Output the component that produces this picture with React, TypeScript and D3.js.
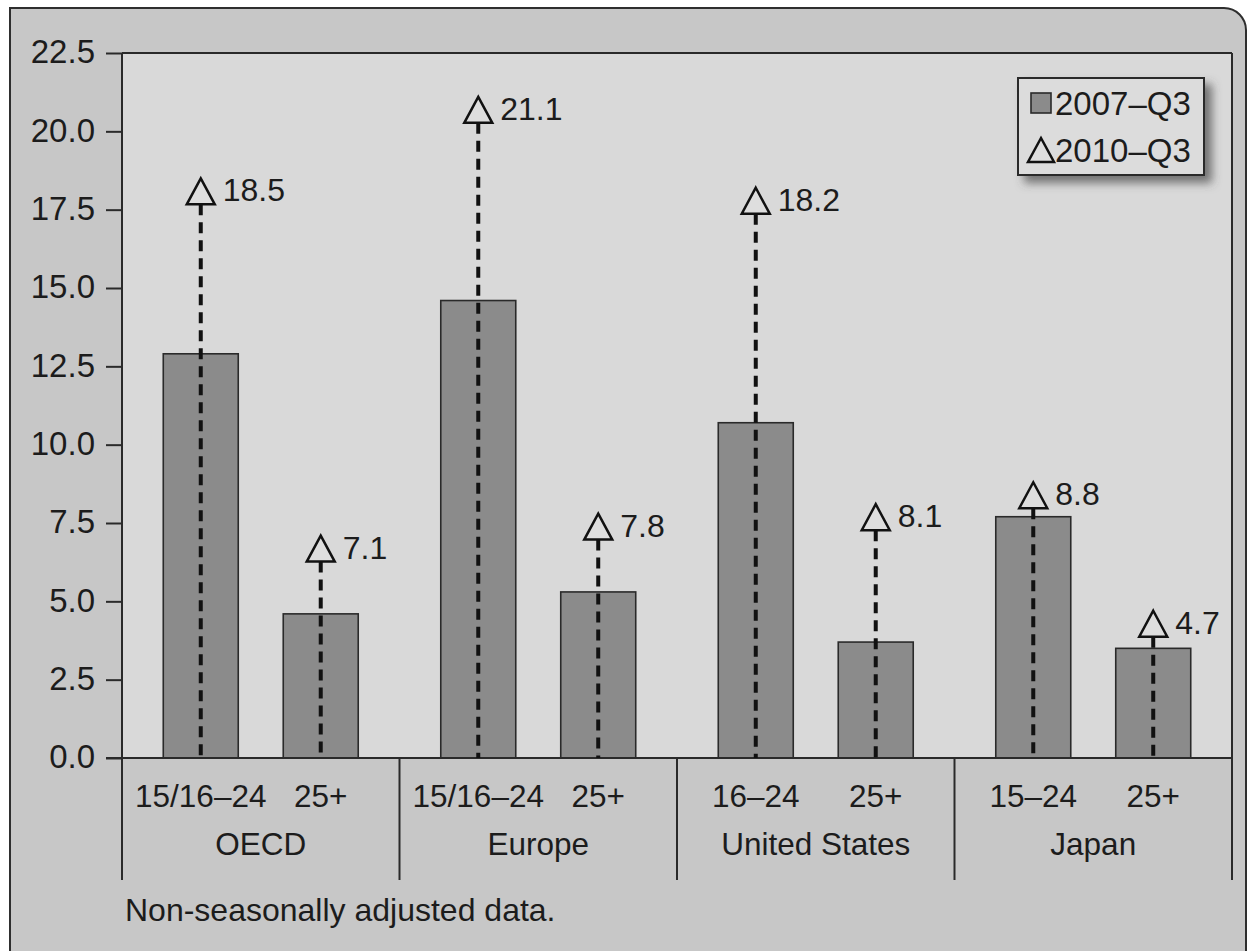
import { useEffect, useRef } from "react";
import * as d3 from "d3";

// regions and age brackets
const groups = ["OECD", "Europe", "United States", "Japan"];
const ageLabels = [
  ["15/16–24", "25+"],
  ["15/16–24", "25+"],
  ["16–24", "25+"],
  ["15–24", "25+"],
];
// unemployment rate, %
const rate2007 = [12.9, 4.6, 14.6, 5.3, 10.7, 3.7, 7.7, 3.5];
const rate2010 = [18.5, 7.1, 21.1, 7.8, 18.2, 8.1, 8.8, 4.7];
const yTicks = [0, 2.5, 5, 7.5, 10, 12.5, 15, 17.5, 20, 22.5];
const seriesNames = ["2007–Q3", "2010–Q3"];
const footnote = "Non-seasonally adjusted data.";

type Row = { group: string; age: string; slot: string; v07: number; v10: number };

const rows: Row[] = groups.flatMap((g, i) =>
  ageLabels[i].map((a, j) => ({
    group: g,
    age: a,
    slot: String(j),
    v07: rate2007[i * 2 + j],
    v10: rate2010[i * 2 + j],
  })),
);

const FONT = "'Liberation Sans', Arial, Helvetica, sans-serif";
const INK = "#1c1c1c";

const Chart = ({
  width = 1250,
  height = 951,
  margin = { top: 53, right: 18, bottom: 193, left: 122 },
}) => {
  const svgRef = useRef<SVGSVGElement>(null);

  useEffect(() => {
    if (!svgRef.current) return;
    const svg = d3.select(svgRef.current);
    svg.selectAll("*").remove();

    const left = margin.left;
    const right = width - margin.right;
    const top = margin.top;
    const bottom = height - margin.bottom;
    const labelsBottom = 880;

    const x0 = d3.scaleBand<string>().domain(groups).range([left, right]);
    const x1 = d3
      .scaleBand<string>()
      .domain(["0", "1"])
      .range([0, x0.bandwidth()])
      .paddingInner(0.375)
      .paddingOuter(0.344);
    const y = d3.scaleLinear().domain([0, 22.5]).range([bottom, top]);
    const cx = (d: Row) => x0(d.group)! + x1(d.slot)! + x1.bandwidth() / 2;

    // legend shadow
    const defs = svg.append("defs");
    const f = defs
      .append("filter")
      .attr("id", "shadow")
      .attr("x", "-20%")
      .attr("y", "-20%")
      .attr("width", "150%")
      .attr("height", "160%");
    f.append("feDropShadow")
      .attr("dx", 7)
      .attr("dy", 7)
      .attr("stdDeviation", 5)
      .attr("flood-color", "#444")
      .attr("flood-opacity", 0.7);

    // page frame
    svg
      .append("path")
      .attr("d", `M10,${height + 5} V8 H1224 A22,22 0 0 1 1246,30 V${height + 5}`)
      .attr("fill", "#c7c7c7")
      .attr("stroke", "#2e2e2e")
      .attr("stroke-width", 2);

    // plot area
    svg
      .append("rect")
      .attr("x", left)
      .attr("y", top)
      .attr("width", right - left)
      .attr("height", bottom - top)
      .attr("fill", "#d9d9d9");

    // category frame: top, right, separators
    svg
      .append("line")
      .attr("x1", left)
      .attr("x2", right)
      .attr("y1", top)
      .attr("y2", top)
      .attr("stroke", "#2a2a2a")
      .attr("stroke-width", 2);
    svg
      .append("line")
      .attr("x1", right)
      .attr("x2", right)
      .attr("y1", top)
      .attr("y2", labelsBottom)
      .attr("stroke", "#2a2a2a")
      .attr("stroke-width", 2);
    svg
      .append("g")
      .selectAll("line")
      .data(groups)
      .enter()
      .append("line")
      .attr("x1", (g) => x0(g)!)
      .attr("x2", (g) => x0(g)!)
      .attr("y1", (g, i) => (i === 0 ? top : bottom))
      .attr("y2", labelsBottom)
      .attr("stroke", "#2a2a2a")
      .attr("stroke-width", 2);

    // y axis
    const yAxis = svg
      .append("g")
      .attr("transform", `translate(${left},0)`)
      .call(
        d3
          .axisLeft(y)
          .tickValues(yTicks)
          .tickFormat(d3.format(".1f"))
          .tickSize(16)
          .tickSizeOuter(0)
          .tickPadding(11),
      );
    yAxis.select(".domain").remove();
    yAxis.selectAll("line").attr("stroke", "#2a2a2a").attr("stroke-width", 2);
    yAxis
      .selectAll("text")
      .attr("fill", INK)
      .attr("font-family", FONT)
      .attr("font-size", 33)
      .attr("dy", "0.3em");

    // 2007-Q3 bars
    svg
      .append("g")
      .selectAll("rect")
      .data(rows)
      .enter()
      .append("rect")
      .attr("x", (d) => x0(d.group)! + x1(d.slot)!)
      .attr("y", (d) => y(d.v07))
      .attr("width", x1.bandwidth())
      .attr("height", (d) => bottom - y(d.v07))
      .attr("fill", "#8b8b8b")
      .attr("stroke", "#2a2a2a")
      .attr("stroke-width", 1.6);

    // baseline
    svg
      .append("line")
      .attr("x1", left - 16)
      .attr("x2", right)
      .attr("y1", bottom)
      .attr("y2", bottom)
      .attr("stroke", "#2a2a2a")
      .attr("stroke-width", 2);

    const triH = 26;
    const triW = 14;

    // dashed drop lines
    svg
      .append("g")
      .selectAll("line")
      .data(rows)
      .enter()
      .append("line")
      .attr("x1", cx)
      .attr("x2", cx)
      .attr("y1", (d) => y(d.v10) + triH)
      .attr("y2", bottom)
      .attr("stroke", "#111")
      .attr("stroke-width", 4)
      .attr("stroke-dasharray", "11,7");

    // 2010-Q3 triangles
    svg
      .append("g")
      .selectAll("path")
      .data(rows)
      .enter()
      .append("path")
      .attr(
        "d",
        (d) =>
          `M${cx(d)},${y(d.v10)} L${cx(d) + triW},${y(d.v10) + triH} L${cx(d) - triW},${y(d.v10) + triH} Z`,
      )
      .attr("fill", "#dedede")
      .attr("stroke", "#111")
      .attr("stroke-width", 2.5)
      .attr("stroke-linejoin", "miter");

    svg
      .append("g")
      .selectAll("text")
      .data(rows)
      .enter()
      .append("text")
      .attr("x", (d) => cx(d) + triW + 8)
      .attr("y", (d) => y(d.v10) + triH - 3)
      .attr("fill", INK)
      .attr("font-family", FONT)
      .attr("font-size", 32)
      .text((d) => d.v10.toFixed(1));

    // age labels
    svg
      .append("g")
      .selectAll("text")
      .data(rows)
      .enter()
      .append("text")
      .attr("x", cx)
      .attr("y", 807)
      .attr("text-anchor", "middle")
      .attr("fill", INK)
      .attr("font-family", FONT)
      .attr("font-size", 31.5)
      .text((d) => d.age);

    // region labels
    svg
      .append("g")
      .selectAll("text")
      .data(groups)
      .enter()
      .append("text")
      .attr("x", (g) => x0(g)! + x0.bandwidth() / 2)
      .attr("y", 855)
      .attr("text-anchor", "middle")
      .attr("fill", INK)
      .attr("font-family", FONT)
      .attr("font-size", 31.5)
      .text((g) => g);

    // legend
    const lg = svg.append("g").attr("transform", "translate(1018,78)");
    lg.append("rect")
      .attr("width", 186)
      .attr("height", 97)
      .attr("fill", "#dcdcdc")
      .attr("stroke", "#2a2a2a")
      .attr("stroke-width", 2)
      .attr("filter", "url(#shadow)");
    lg.append("rect")
      .attr("x", 13)
      .attr("y", 15)
      .attr("width", 20)
      .attr("height", 20)
      .attr("fill", "#8b8b8b")
      .attr("stroke", "#2a2a2a")
      .attr("stroke-width", 1.6);
    lg.append("path")
      .attr("d", "M23,60 L36,84 L10,84 Z")
      .attr("fill", "#dedede")
      .attr("stroke", "#111")
      .attr("stroke-width", 2.5);
    lg.selectAll("text.lab")
      .data(seriesNames)
      .enter()
      .append("text")
      .attr("x", 37)
      .attr("y", (d, i) => 37 + i * 47)
      .attr("fill", INK)
      .attr("font-family", FONT)
      .attr("font-size", 33)
      .text((d) => d);

    // footnote
    svg
      .append("text")
      .attr("x", 125)
      .attr("y", 921)
      .attr("fill", INK)
      .attr("font-family", FONT)
      .attr("font-size", 32)
      .text(footnote);
  }, [height, margin, width]);

  return (
    <svg
      ref={svgRef}
      width={width}
      height={height}
      style={{ position: "absolute", left: 0, top: 0, background: "#fff" }}
    ></svg>
  );
};

export default function App() {
  return <Chart />;
}
